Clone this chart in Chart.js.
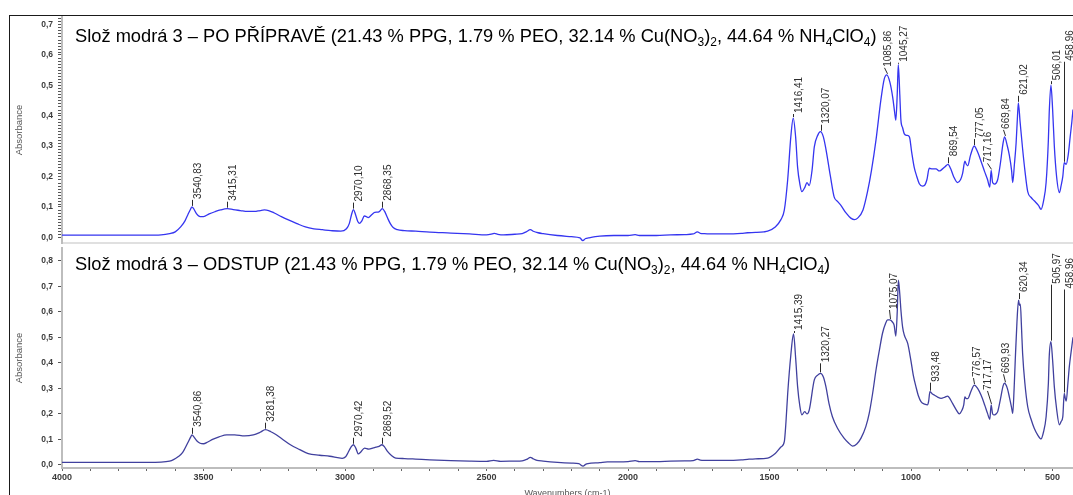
<!DOCTYPE html>
<html>
<head>
<meta charset="utf-8">
<script src="https://cdn.jsdelivr.net/npm/chart.js@4.4.1/dist/chart.umd.min.js"></script>
<style>
  html, body { margin: 0; padding: 0; background: #fff; overflow: hidden; }
  #page { position: relative; width: 1073px; height: 495px; overflow: hidden; }
  #frame { position: absolute; left: 9px; top: 15px; width: 1100px; height: 500px;
           border-left: 1px solid #1a1a1a; border-top: 1px solid #1a1a1a; }
  canvas { position: absolute; left: 0; }
  #top { top: 0; }
  #bottom { top: 245px; }
</style>
</head>
<body>
<div id="page">
  <div id="frame"></div>
  <canvas id="top" width="1073" height="245"></canvas>
  <canvas id="bottom" width="1073" height="254"></canvas>
</div>
<script>
// --- data (wavenumber cm-1 / absorbance) ---
const topWn = [4000, 3900, 3800, 3700, 3650, 3620, 3600, 3580, 3565, 3555, 3545, 3540.83, 3535, 3525, 3512, 3500,
  3480, 3460, 3440, 3415.31, 3395, 3370, 3345, 3320, 3300, 3285, 3270, 3250, 3225, 3200, 3170, 3140, 3110, 3080,
  3050, 3015, 2995, 2985, 2977, 2970.10, 2963, 2955, 2948, 2940, 2932, 2925, 2918, 2905, 2895, 2883, 2875, 2868.35,
  2860, 2850, 2840, 2830, 2815, 2790, 2750, 2700, 2626, 2560, 2500, 2480, 2472, 2460, 2440, 2400, 2374, 2360, 2345,
  2335, 2318, 2300, 2250, 2200, 2170, 2160, 2150, 2140, 2100, 2050, 2000, 1975, 1960, 1900, 1850, 1800, 1770, 1755,
  1745, 1730, 1700, 1650, 1600, 1578, 1550, 1520, 1507, 1480, 1460, 1448, 1436, 1425, 1416.41, 1408, 1401, 1393,
  1386, 1375, 1368, 1360, 1350, 1342, 1330, 1320.07, 1310, 1301, 1285, 1272, 1260, 1248, 1230, 1213, 1200, 1189,
  1170, 1154, 1140, 1124, 1107, 1095, 1085.86, 1075, 1065, 1058, 1054, 1049, 1045.27, 1040, 1036, 1030, 1024, 1015,
  1006, 998, 989, 980, 971, 960, 953, 944, 936, 925, 912, 900, 895, 880, 869.54, 860, 850, 836, 825, 818, 810, 805,
  800, 790, 777.05, 765, 753, 740, 730, 722, 717.16, 712, 705, 694, 685, 675, 669.84, 660, 653, 645, 641, 635, 629,
  624, 621.02, 615, 606, 598, 588, 575, 565, 550, 541, 532, 523, 515, 512, 506.01, 500, 494, 486, 476, 470, 464,
  458.96, 452, 445, 438, 432, 428];
const topAbs = [0.007, 0.007, 0.007, 0.007, 0.008, 0.012, 0.018, 0.035, 0.055, 0.075, 0.094, 0.100, 0.094, 0.078, 0.068, 0.068,
  0.077, 0.084, 0.090, 0.094, 0.091, 0.088, 0.085, 0.085, 0.088, 0.090, 0.088, 0.080, 0.068, 0.057, 0.045, 0.034, 0.028, 0.025,
  0.022, 0.020, 0.028, 0.045, 0.075, 0.091, 0.075, 0.052, 0.046, 0.055, 0.070, 0.068, 0.065, 0.075, 0.082, 0.083, 0.088, 0.094,
  0.085, 0.064, 0.045, 0.032, 0.025, 0.022, 0.020, 0.017, 0.014, 0.011, 0.008, 0.011, 0.013, 0.010, 0.008, 0.010, 0.012, 0.018, 0.025,
  0.020, 0.015, 0.012, 0.006, 0.002, -0.002, -0.011, -0.004, -0.002, 0.004, 0.006, 0.006, 0.009, 0.006, 0.006, 0.008, 0.009, 0.011, 0.018,
  0.013, 0.012, 0.011, 0.011, 0.013, 0.015, 0.016, 0.018, 0.020, 0.034, 0.058, 0.089, 0.190, 0.330, 0.392, 0.330, 0.230, 0.175,
  0.150, 0.165, 0.180, 0.170, 0.220, 0.297, 0.335, 0.347, 0.330, 0.290, 0.200, 0.133, 0.118, 0.105, 0.080, 0.063, 0.058, 0.063,
  0.090, 0.150, 0.220, 0.320, 0.450, 0.520, 0.534, 0.510, 0.460, 0.410, 0.385, 0.470, 0.567, 0.470, 0.385, 0.360, 0.340, 0.335,
  0.330, 0.280, 0.230, 0.200, 0.176, 0.168, 0.170, 0.190, 0.227, 0.225, 0.225, 0.218, 0.220, 0.232, 0.240, 0.225, 0.200, 0.180, 0.190, 0.210, 0.250, 0.240,
  0.235, 0.270, 0.300, 0.280, 0.250, 0.215, 0.190, 0.165, 0.220, 0.180, 0.175, 0.190, 0.240, 0.310, 0.330, 0.300, 0.270, 0.220, 0.180, 0.240, 0.310,
  0.400, 0.442, 0.380, 0.290, 0.220, 0.150, 0.130, 0.120, 0.105, 0.092, 0.120, 0.180, 0.320, 0.410, 0.500, 0.420, 0.300, 0.200, 0.147, 0.170, 0.200,
  0.245, 0.240, 0.270, 0.330, 0.380, 0.420];

const bottomWn = [4000, 3900, 3800, 3700, 3650, 3620, 3606, 3590, 3575, 3556, 3546, 3540.86, 3534, 3524, 3512, 3500,
  3485, 3468, 3445, 3418, 3390, 3355, 3324, 3300, 3281.38, 3262, 3243, 3220, 3193, 3160, 3130, 3090, 3054, 3010, 2998,
  2990, 2980, 2970.42, 2962, 2953, 2945, 2931, 2916, 2900, 2891, 2880, 2869.52, 2860, 2850, 2835, 2821, 2790, 2751, 2700,
  2626, 2560, 2500, 2475, 2450, 2400, 2374, 2358, 2345, 2335, 2322, 2300, 2249, 2200, 2174, 2159, 2150, 2142, 2100, 2073,
  2040, 2000, 1975, 1960, 1900, 1850, 1800, 1770, 1755, 1745, 1730, 1700, 1650, 1600, 1578, 1550, 1507, 1480, 1460, 1448,
  1442, 1436, 1425, 1415.39, 1408, 1401, 1393, 1386, 1376, 1368, 1360, 1342, 1330, 1320.27, 1310, 1301, 1290, 1278, 1260,
  1237, 1220, 1207, 1192, 1177, 1160, 1148, 1136, 1124, 1112, 1101, 1090, 1083, 1075.07, 1066, 1060, 1054, 1049, 1045,
  1040, 1036, 1030, 1024, 1012, 1001, 992, 983, 974, 965, 952, 942, 938, 933.48, 925, 918, 905, 894, 880, 871, 862, 853,
  840, 830, 820, 814, 810, 805, 800, 788, 776.57, 765, 753, 740, 730, 722, 717.17, 712, 708, 700, 694, 684, 675, 669.93,
  660, 653, 645, 641, 636, 632, 626, 620.34, 617, 614, 610, 606, 598, 588, 575, 565, 553, 541, 532, 523, 515, 512, 505.97,
  500, 494, 486, 476, 470, 464, 458.96, 455, 452, 446, 441, 435, 428];
const bottomAbs = [0.010, 0.010, 0.010, 0.010, 0.011, 0.015, 0.021, 0.032, 0.047, 0.086, 0.108, 0.118, 0.110, 0.095, 0.085, 0.083,
  0.090, 0.100, 0.110, 0.118, 0.118, 0.114, 0.118, 0.128, 0.138, 0.130, 0.118, 0.100, 0.079, 0.060, 0.044, 0.038, 0.034, 0.026, 0.032,
  0.047, 0.068, 0.079, 0.066, 0.043, 0.050, 0.066, 0.062, 0.067, 0.070, 0.073, 0.079, 0.070, 0.053, 0.036, 0.027, 0.025, 0.023, 0.020,
  0.017, 0.015, 0.014, 0.018, 0.014, 0.015, 0.016, 0.022, 0.030, 0.024, 0.018, 0.015, 0.010, 0.007, 0.005, -0.005, 0.002, 0.005, 0.009, 0.012,
  0.012, 0.013, 0.017, 0.013, 0.013, 0.015, 0.016, 0.017, 0.023, 0.019, 0.018, 0.018, 0.018, 0.020, 0.022, 0.024, 0.027, 0.045, 0.070, 0.091,
  0.170, 0.280, 0.430, 0.513, 0.420, 0.307, 0.230, 0.196, 0.209, 0.200, 0.215, 0.333, 0.352, 0.359, 0.345, 0.307, 0.240, 0.189, 0.144,
  0.105, 0.085, 0.074, 0.082, 0.105, 0.150, 0.202, 0.280, 0.372, 0.450, 0.516, 0.555, 0.568, 0.568, 0.560, 0.548, 0.505, 0.600, 0.724,
  0.670, 0.607, 0.540, 0.509, 0.476, 0.411, 0.350, 0.307, 0.270, 0.248, 0.238, 0.235, 0.250, 0.287, 0.278, 0.274, 0.265, 0.261, 0.266, 0.270, 0.258, 0.240,
  0.215, 0.200, 0.215, 0.235, 0.267, 0.260, 0.260, 0.290, 0.313, 0.300, 0.274, 0.235, 0.202, 0.179, 0.235, 0.200, 0.196, 0.200, 0.209, 0.260, 0.310, 0.320,
  0.300, 0.267, 0.225, 0.202, 0.300, 0.411, 0.560, 0.646, 0.625, 0.630, 0.540, 0.437, 0.320, 0.228, 0.175, 0.144, 0.118, 0.102, 0.130, 0.189, 0.320, 0.424, 0.483,
  0.410, 0.307, 0.220, 0.157, 0.170, 0.189, 0.280, 0.260, 0.250, 0.320, 0.385, 0.440, 0.500];

// labelled peaks
const topPeaks = ['3540,83', '3415,31', '2970,10', '2868,35', '1416,41', '1320,07', '1085,86', '1045,27',
  '869,54', '777,05', '717,16', '669,84', '621,02', '506,01', '458,96'];
const bottomPeaks = ['3540,86', '3281,38', '2970,42', '2869,52', '1415,39', '1320,27', '1075,07', '933,48',
  '776,57', '717,17', '669,93', '620,34', '505,97', '458,96'];

// axis ticks
const topYTicks = [0, 0.1, 0.2, 0.3, 0.4, 0.5, 0.6, 0.7];
const bottomYTicks = [0, 0.1, 0.2, 0.3, 0.4, 0.5, 0.6, 0.7, 0.8];
const xTickLabels = [4000, 3500, 3000, 2500, 2000, 1500, 1000, 500];

// label placement tweaks (pixels): lift = gap above the peak, dx = sideways shift
const topLabelLayout = {
  '1416,41': { lift: 5 }, '1085,86': { dx: -5 }, '1045,27': { lift: 3 }, '717,16': { dx: -9 },
  '669,84': { dx: -4 }, '506,01': { lift: 5 }, '458,96': { lift: 102 }
};
const bottomLabelLayout = {
  '1415,39': { lift: 4 }, '1320,27': { lift: 11 }, '1075,07': { dx: -2, lift: 11 }, '933,48': { lift: 10 },
  '776,57': { dx: -3 }, '717,17': { dx: -9, lift: 15 }, '669,93': { dx: -4, lift: 10 },
  '505,97': { lift: 58 }, '458,96': { lift: 105 }
};

const family = '"Liberation Sans", Arial, Helvetica, sans-serif';
Chart.defaults.font.family = family;

const panels = {
  top: {
    title: 'Slož modrá 3 – PO PŘÍPRAVĚ (21.43 % PPG, 1.79 % PEO, 32.14 % Cu(NO_3)_2, 44.64 % NH_4ClO_4)',
    titleY: 42, peaks: topPeaks, layout: topLabelLayout, minorY: true
  },
  bottom: {
    title: 'Slož modrá 3 – ODSTUP (21.43 % PPG, 1.79 % PEO, 32.14 % Cu(NO_3)_2, 44.64 % NH_4ClO_4)',
    titleY: 25, peaks: bottomPeaks, layout: bottomLabelLayout, minorY: false
  }
};

function drawRich(ctx, text, x, y) {
  ctx.fillStyle = '#000';
  ctx.textAlign = 'left';
  ctx.textBaseline = 'alphabetic';
  text.split(/(_\d)/).forEach(part => {
    if (!part) return;
    const sub = part[0] === '_';
    const s = sub ? part.slice(1) : part;
    ctx.font = (sub ? '12px ' : '18.3px ') + family;
    ctx.fillText(s, x, sub ? y + 4 : y);
    x += ctx.measureText(s).width;
  });
}

const decor = {
  id: 'decor',
  afterDatasetsDraw(chart) {
    const p = panels[chart.canvas.id];
    const ctx = chart.ctx, xs = chart.scales.x, ys = chart.scales.y;
    const pts = chart.data.datasets[0].data;
    ctx.save();

    // minor ticks on the absorbance axis
    if (p.minorY) {
      ctx.strokeStyle = '#555';
      ctx.lineWidth = 1;
      for (let i = 1; i <= 72; i++) {
        if (i % 10 === 0) continue;
        const y = Math.round(ys.getPixelForValue(i / 100)) + 0.5;
        ctx.beginPath();
        ctx.moveTo(xs.left - 4, y);
        ctx.lineTo(xs.left - 1, y);
        ctx.stroke();
      }
    }

    // peak labels with leader lines
    ctx.font = '10px ' + family;
    ctx.fillStyle = '#2e2e2e';
    ctx.strokeStyle = '#2a2a2a';
    ctx.lineWidth = 1;
    ctx.textAlign = 'left';
    ctx.textBaseline = 'middle';
    p.peaks.forEach(lbl => {
      const wn = parseFloat(lbl.replace(',', '.'));
      const pt = pts.find(d => d.x === wn);
      if (!pt) return;
      const cfg = p.layout[lbl] || {};
      const lift = cfg.lift ?? 8, dx = cfg.dx ?? 0;
      const px = xs.getPixelForValue(pt.x), py = ys.getPixelForValue(pt.y);
      ctx.beginPath();
      ctx.moveTo(Math.round(px) + 0.5, py - 1);
      ctx.lineTo(Math.round(px + dx * 0.5) + 0.5, py - lift + 1);
      ctx.stroke();
      ctx.save();
      ctx.translate(px + 6 + dx, py - lift);
      ctx.rotate(-Math.PI / 2);
      ctx.fillText(lbl, 0, 0);
      ctx.restore();
    });

    drawRich(ctx, p.title, 75, p.titleY);
    ctx.restore();
  }
};

function yScale(min, max, ticks) {
  return {
    type: 'linear', min, max,
    afterBuildTicks: s => { s.ticks = ticks.map(v => ({ value: v })); },
    afterFit: s => { s.width = 62; s.paddingTop = 0; s.paddingBottom = 0; },
    ticks: { callback: v => v.toFixed(1).replace('.', ','), color: '#3c3c3c', font: { size: 8.5, weight: 'bold' }, padding: 5 },
    grid: { drawOnChartArea: false, tickLength: 4, tickColor: '#555', tickWidth: 1 },
    border: { color: '#bdbdbd', width: 2 },
    title: { display: true, text: 'Absorbance', color: '#555', font: { size: 9.5 }, padding: { top: 14, bottom: 0 } }
  };
}

function buildChart(id, wn, abs, color, x, y, padTop) {
  return new Chart(document.getElementById(id), {
    type: 'line',
    data: {
      datasets: [{
        data: wn.map((v, i) => ({ x: v, y: abs[i] })),
        borderColor: color,
        borderWidth: 1.3,
        pointRadius: 0,
        cubicInterpolationMode: 'monotone',
        fill: false
      }]
    },
    options: {
      responsive: false,
      animation: false,
      devicePixelRatio: 1,
      events: [],
      layout: { padding: { top: padTop, left: 0, right: 0, bottom: 0 } },
      scales: { x, y },
      plugins: { legend: { display: false }, tooltip: { enabled: false } }
    },
    plugins: [decor]
  });
}

buildChart('top', topWn, topAbs, '#3535f0', {
  type: 'linear', reverse: true, min: 428, max: 4000,
  ticks: { display: false },
  grid: { display: false },
  border: { color: '#e0e0e0', width: 2 },
  afterFit: s => { s.height = 2; s.paddingLeft = 0; s.paddingRight = 0; }
}, yScale(-0.0187, 0.724, topYTicks), 17);

buildChart('bottom', bottomWn, bottomAbs, '#40409e', {
  type: 'linear', reverse: true, min: 428, max: 4000,
  afterBuildTicks: s => {
    const t = [];
    for (let v = 500; v <= 4000; v += 100) t.push({ value: v });
    s.ticks = t;
  },
  afterFit: s => { s.height = 31; s.paddingLeft = 0; s.paddingRight = 0; },
  ticks: {
    autoSkip: false, maxRotation: 0, minRotation: 0, padding: 1,
    callback: v => xTickLabels.includes(v) ? String(v) : '',
    color: '#3c3c3c', font: { size: 9, weight: 'bold' }
  },
  grid: { drawOnChartArea: false, tickLength: 3, tickColor: '#666' },
  border: { color: '#bdbdbd', width: 2 },
  title: { display: true, text: 'Wavenumbers (cm-1)', color: '#555', font: { size: 9 }, padding: 0 }
}, yScale(-0.012, 0.85, bottomYTicks), 3);
</script>
</body>
</html>
